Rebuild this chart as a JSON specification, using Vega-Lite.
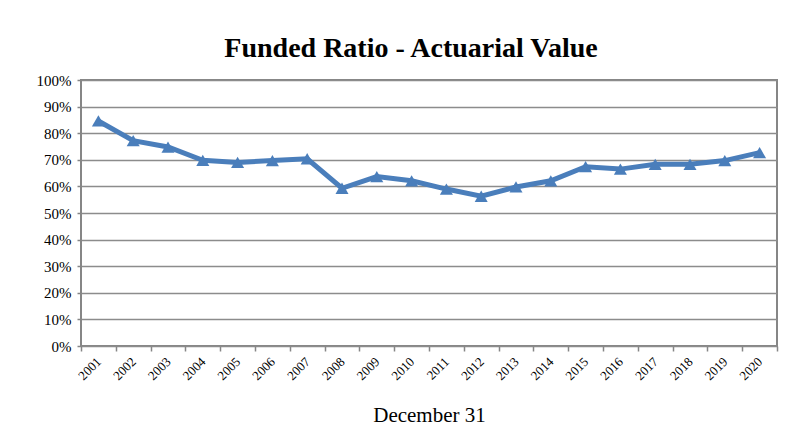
{
  "$schema": "https://vega.github.io/schema/vega-lite/v6.json",
  "width": 696,
  "height": 266,
  "autosize": "none",
  "padding": {"left": 81, "top": 80, "right": 11, "bottom": 84},
  "background": "white",
  "title": {
    "text": "Funded Ratio - Actuarial Value",
    "font": "Liberation Serif",
    "fontSize": 28,
    "fontWeight": "bold",
    "color": "black",
    "anchor": "middle",
    "dx": -18,
    "baseline": "alphabetic",
    "offset": -12
  },
  "config": {
    "view": {"stroke": "#868686", "strokeWidth": 2},
    "axis": {
      "labelFont": "Liberation Serif",
      "titleFont": "Liberation Serif",
      "labelColor": "black",
      "titleColor": "black",
      "domain": false,
      "tickColor": "#868686",
      "tickWidth": 1.5
    }
  },
  "data": {
    "values": [
      {"year": "2001", "ratio": 0.846},
      {"year": "2002", "ratio": 0.772},
      {"year": "2003", "ratio": 0.748},
      {"year": "2004", "ratio": 0.698},
      {"year": "2005", "ratio": 0.690},
      {"year": "2006", "ratio": 0.697},
      {"year": "2007", "ratio": 0.704},
      {"year": "2008", "ratio": 0.593},
      {"year": "2009", "ratio": 0.637},
      {"year": "2010", "ratio": 0.621},
      {"year": "2011", "ratio": 0.590},
      {"year": "2012", "ratio": 0.563},
      {"year": "2013", "ratio": 0.598},
      {"year": "2014", "ratio": 0.621},
      {"year": "2015", "ratio": 0.674},
      {"year": "2016", "ratio": 0.665},
      {"year": "2017", "ratio": 0.683},
      {"year": "2018", "ratio": 0.683},
      {"year": "2019", "ratio": 0.697},
      {"year": "2020", "ratio": 0.727}
    ]
  },
  "encoding": {
    "x": {
      "field": "year",
      "type": "ordinal",
      "scale": {"type": "band", "paddingInner": 0, "paddingOuter": 0},
      "axis": {
        "title": "December 31",
        "titleFontSize": 21,
        "titleFontWeight": "normal",
        "titlePadding": 22,
        "labelFontSize": 13,
        "labelAngle": -45,
        "labelPadding": 4,
        "labelOffset": -4,
        "tickBand": "extent",
        "tickSize": 5,
        "grid": false
      }
    },
    "y": {
      "field": "ratio",
      "type": "quantitative",
      "scale": {"domain": [0, 1], "nice": false},
      "axis": {
        "title": null,
        "format": ".0%",
        "values": [0, 0.1, 0.2, 0.3, 0.4, 0.5, 0.6, 0.7, 0.8, 0.9, 1],
        "labelFontSize": 15,
        "labelPadding": 6,
        "tickSize": 4,
        "grid": true,
        "gridColor": "#8c8c8c",
        "gridWidth": 1.5,
        "gridOpacity": 1
      }
    }
  },
  "layer": [
    {
      "mark": {"type": "line", "color": "#4a7ebb", "strokeWidth": 5}
    },
    {
      "mark": {"type": "point", "shape": "triangle-up", "filled": true, "color": "#4a7ebb", "opacity": 1, "size": 170}
    }
  ]
}
